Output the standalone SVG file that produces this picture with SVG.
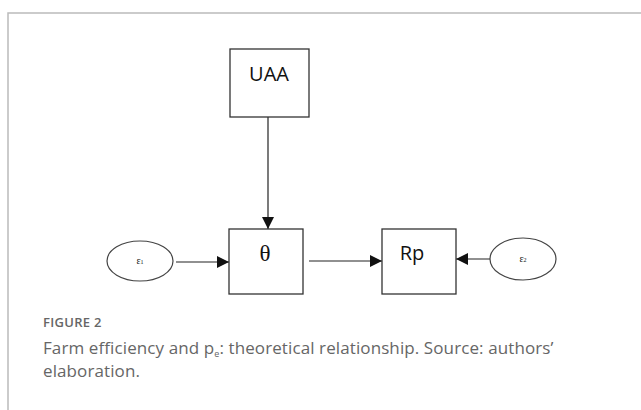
<svg xmlns="http://www.w3.org/2000/svg" width="641" height="410" viewBox="0 0 641 410">
<defs>
<style>
.box{fill:#fff;stroke:#333;stroke-width:1.3}
.ell{fill:#fff;stroke:#444;stroke-width:1.2}
.lbl{font-family:"Open Sans","Liberation Sans",sans-serif;font-size:20px;fill:#111;text-anchor:middle}
.greek{font-family:"Liberation Serif",serif;fill:#111;text-anchor:middle}
.conn{stroke:#222;stroke-width:1.2;fill:none;marker-end:url(#ah)}
.cap{font-family:"Open Sans","Liberation Sans",sans-serif;fill:#666}
</style>
<marker id="ah" viewBox="0 0 10 10" refX="10" refY="5" markerWidth="12" markerHeight="12" markerUnits="userSpaceOnUse" orient="auto">
<path d="M0,0 L10,5 L0,10 z" fill="#111"/>
</marker>
</defs>
<rect width="641" height="410" fill="#fff"/>
<path d="M8,410 V13 H641" fill="none" stroke="#bbb" stroke-width="1.5"/>
<g id="connectors">
<line class="conn" x1="268" y1="117" x2="268" y2="229"/>
<line class="conn" x1="176" y1="262" x2="229" y2="262"/>
<line class="conn" x1="309" y1="261" x2="382" y2="261"/>
<line class="conn" x1="490" y1="259" x2="456" y2="259"/>
</g>
<g id="uaa">
<rect class="box" x="230" y="49" width="79" height="68"/>
<text class="lbl" x="269" y="81">UAA</text>
</g>
<g id="theta">
<rect class="box" x="229" y="229" width="74" height="65"/>
<text class="greek" x="265" y="261" font-size="23">θ</text>
</g>
<g id="rp">
<rect class="box" x="382" y="229" width="74" height="65"/>
<text class="lbl" x="412" y="260">Rp</text>
</g>
<g id="e1">
<ellipse class="ell" cx="140" cy="261" rx="33" ry="20"/>
<text class="greek" x="140" y="264" font-size="10">ε<tspan font-size="6">1</tspan></text>
</g>
<g id="e2">
<ellipse class="ell" cx="523" cy="259" rx="33" ry="21"/>
<text class="greek" x="523" y="262" font-size="10">ε<tspan font-size="6">2</tspan></text>
</g>
<text class="cap" x="43" y="327" font-size="13" font-weight="600" letter-spacing="0.3">FIGURE 2</text>
<text class="cap" x="43" y="354" font-size="17" letter-spacing="0.1">Farm efficiency and p<tspan font-size="9" dy="3">e</tspan><tspan dy="-3">: theoretical relationship. Source: authors’</tspan></text>
<text class="cap" x="43" y="377" font-size="17" letter-spacing="0.1">elaboration.</text>
</svg>
